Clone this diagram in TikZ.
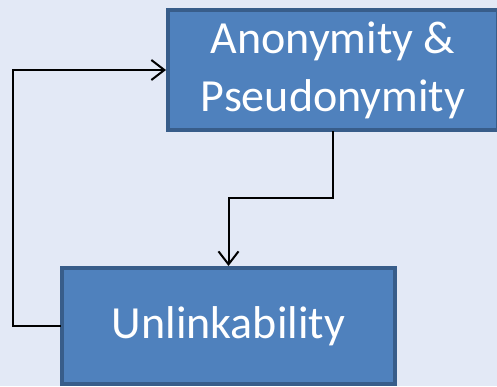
\documentclass[tikz,border=0pt]{standalone}
\usepackage{fontspec}
\setmainfont{Carlito}
\usetikzlibrary{arrows.meta}
\definecolor{bgc}{RGB}{227,233,246}
\definecolor{boxfill}{RGB}{79,129,189}
\definecolor{boxline}{RGB}{56,93,138}
\tikzset{
  box/.style={draw=boxline, fill=boxfill, line width=4pt, text=white, align=center,
    inner sep=0pt, font=\fontsize{46}{58}\selectfont},
  conn/.style={draw=black, line width=2pt, line cap=rect},
  tip/.style={-{Straight Barb[length=13pt,width=20pt,line width=2pt]}}
}
\begin{document}
\begin{tikzpicture}[x=1pt,y=1pt]
\fill[bgc] (0,0) rectangle (497,386);
\useasboundingbox (0,0) rectangle (497,386);
\node[box, minimum width=330pt, minimum height=120pt] (top) at (333,316) {Anonymity \&\\Pseudonymity};
\node[box, minimum width=333pt, minimum height=116pt] (bot) at (228.5,60) {Unlinkability};
\coordinate (loopx) at (13,0);
\coordinate (mid) at (0,188);
\draw[conn, tip] (bot.west) -- (loopx |- bot.west) -- (loopx |- top.west) -- (top.west);
\draw[conn, tip] (top.south) -- (top.south |- mid) -| (bot.north);
\end{tikzpicture}
\end{document}
